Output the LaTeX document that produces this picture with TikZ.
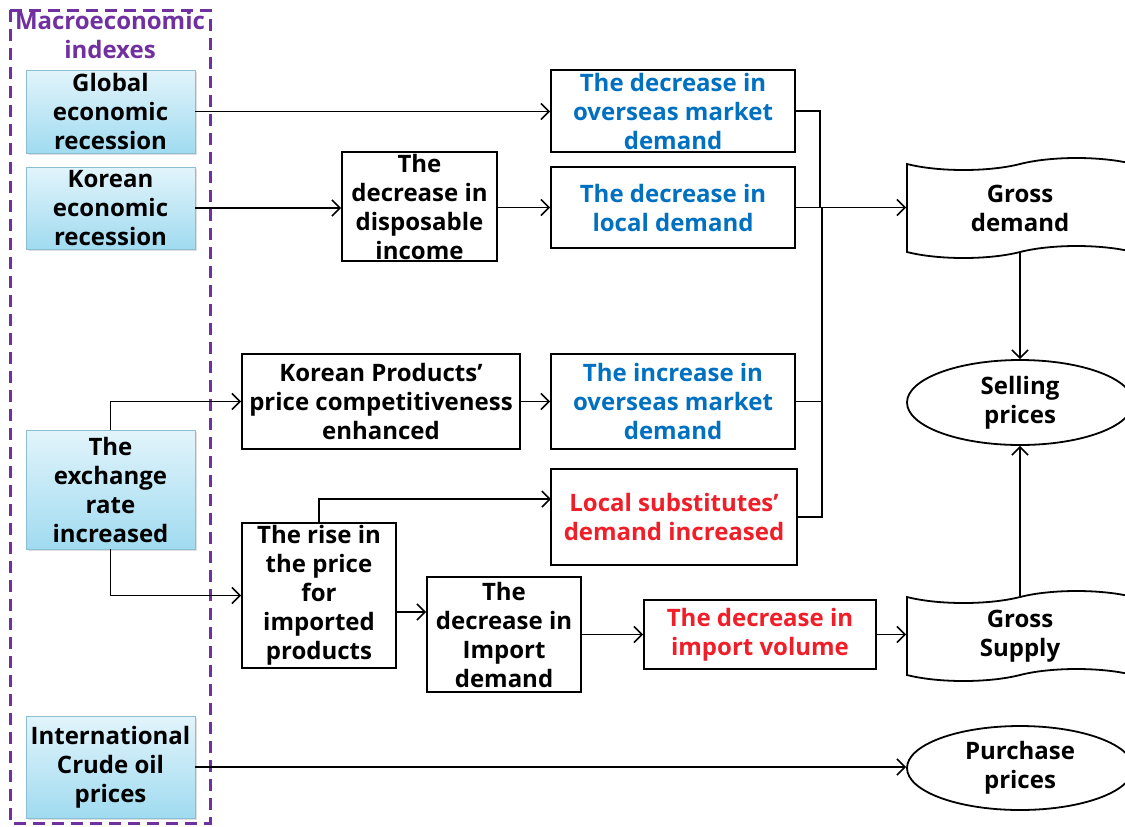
\documentclass[tikz,border=0pt]{standalone}
\usepackage{fontspec}
\setmainfont{Open Sans}
\usetikzlibrary{arrows.meta, shapes.geometric, shapes.symbols, shadows}

\definecolor{macropurple}{RGB}{112,48,160}
\definecolor{effblue}{RGB}{0,112,192}
\definecolor{effred}{RGB}{240,30,40}
\definecolor{idxtop}{RGB}{226,244,251}
\definecolor{idxbot}{RGB}{160,219,240}
\definecolor{idxline}{RGB}{140,190,210}

\begin{document}
\begin{tikzpicture}[x=0.5pt, y=-0.5pt,
	every node/.style={font=\fontsize{12}{14.5}\selectfont\bfseries, align=center, inner sep=0pt},
	idx/.style={draw=idxline, top color=idxtop, bottom color=idxbot, minimum width=84.5pt,
		drop shadow={shadow xshift=1pt, shadow yshift=-1pt, opacity=.25, fill=gray}},
	box/.style={draw, line width=0.9pt, fill=white},
	tapebox/.style={draw, line width=0.9pt, tape, tape bend height=6pt, minimum width=113pt},
	oval/.style={draw, line width=0.9pt, ellipse, minimum width=113pt},
	arr/.style={line width=0.8pt, -{Straight Barb[length=4pt,width=8pt]}},
	lnk/.style={line width=0.8pt}]
	\useasboundingbox (0,0) rectangle (1125,826);
	
	% macroeconomic indexes
	\draw[macropurple, line width=1.5pt, dash pattern=on 6pt off 3.5pt] (10,10) rectangle (210,823);
	\node[macropurple] (title) at (110,35) {Macroeconomic\\indexes};
	
	\node[idx, minimum height=41.5pt] (glob) at (110.5,111.5) {Global\\economic\\recession};
	\node[idx, minimum height=41pt] (kor) at (110.5,208) {Korean\\economic\\recession};
	\node[idx, minimum height=59.5pt] (exch) at (110.5,489.5) {The\\exchange\\rate\\increased};
	\node[idx, minimum height=51pt] (intl) at (110.5,767) {International\\Crude oil\\prices};
	
	% effects
	\node[box, minimum width=77.5pt, minimum height=54.5pt] (disp) at (419.5,206.5) {The\\decrease in\\disposable\\income};
	\node[box, text=effblue, minimum width=122pt, minimum height=41pt] (ovd) at (673,111) {The decrease in\\overseas market\\demand};
	\node[box, text=effblue, minimum width=122pt, minimum height=40.5pt] (locd) at (673,207.5) {The decrease in\\local demand};
	\node[box, minimum width=139pt, minimum height=47.5pt] (comp) at (381,401.5) {Korean Products’\\price competitiveness\\enhanced};
	\node[box, text=effblue, minimum width=122pt, minimum height=47.5pt] (ovi) at (673,401.5) {The increase in\\overseas market\\demand};
	\node[box, text=effred, minimum width=123pt, minimum height=48pt] (subs) at (674,517) {Local substitutes’\\demand increased};
	\node[box, minimum width=77pt, minimum height=72.5pt] (rise) at (319,595.5) {The rise in\\the price\\for\\imported\\products};
	\node[box, minimum width=77pt, minimum height=57.5pt] (impd) at (504,634.5) {The\\decrease in\\Import\\demand};
	\node[box, text=effred, minimum width=116pt, minimum height=34.5pt] (impv) at (760,634.5) {The decrease in\\import volume};
	
	% results
	\node[tapebox, minimum height=50pt] (gd) at (1020,208) {Gross\\demand};
	\node[oval, minimum height=42.5pt] (sell) at (1020,402.5) {Selling\\prices};
	\node[tapebox, minimum height=45pt] (gs) at (1020,636) {Gross\\Supply};
	\node[oval, minimum height=42pt] (purch) at (1020,768) {Purchase\\prices};
	
	\coordinate (bus) at (820,208);
	\coordinate (subsin) at (551,499);
	\coordinate (riseout) at (396,612);
	
	\draw[arr] (glob.east) -- (glob.east -| ovd.west);
	\draw[arr] (kor.east) -- (kor.east -| disp.west);
	\draw[arr] (disp.east |- locd.west) -- (locd.west);
	\draw[lnk] (ovd.east) -| (bus);
	\draw[lnk] (ovi.east) -| ([xshift=1pt]bus);
	\draw[lnk] (subs.east) -| ([xshift=1pt]bus);
	\draw[arr] (locd.east) -- (locd.east -| gd.west);
	\draw[arr] (gd) -- (sell);
	\draw[arr] (gs) -- (sell);
	
	\draw[arr] (exch.north) |- (comp.west);
	\draw[arr] (exch.south) |- (rise.west);
	\draw[arr] (comp.east) -- (ovi.west);
	\draw[arr] (rise.north) |- (subsin);
	\draw[arr] (riseout) -- (riseout -| impd.west);
	\draw[arr] (impd.east) -- (impv.west);
	\draw[arr] (impv.east) -- (impv.east -| gs.west);
	\draw[arr] (intl.east) -- (intl.east -| purch.west);
\end{tikzpicture}
\end{document}
